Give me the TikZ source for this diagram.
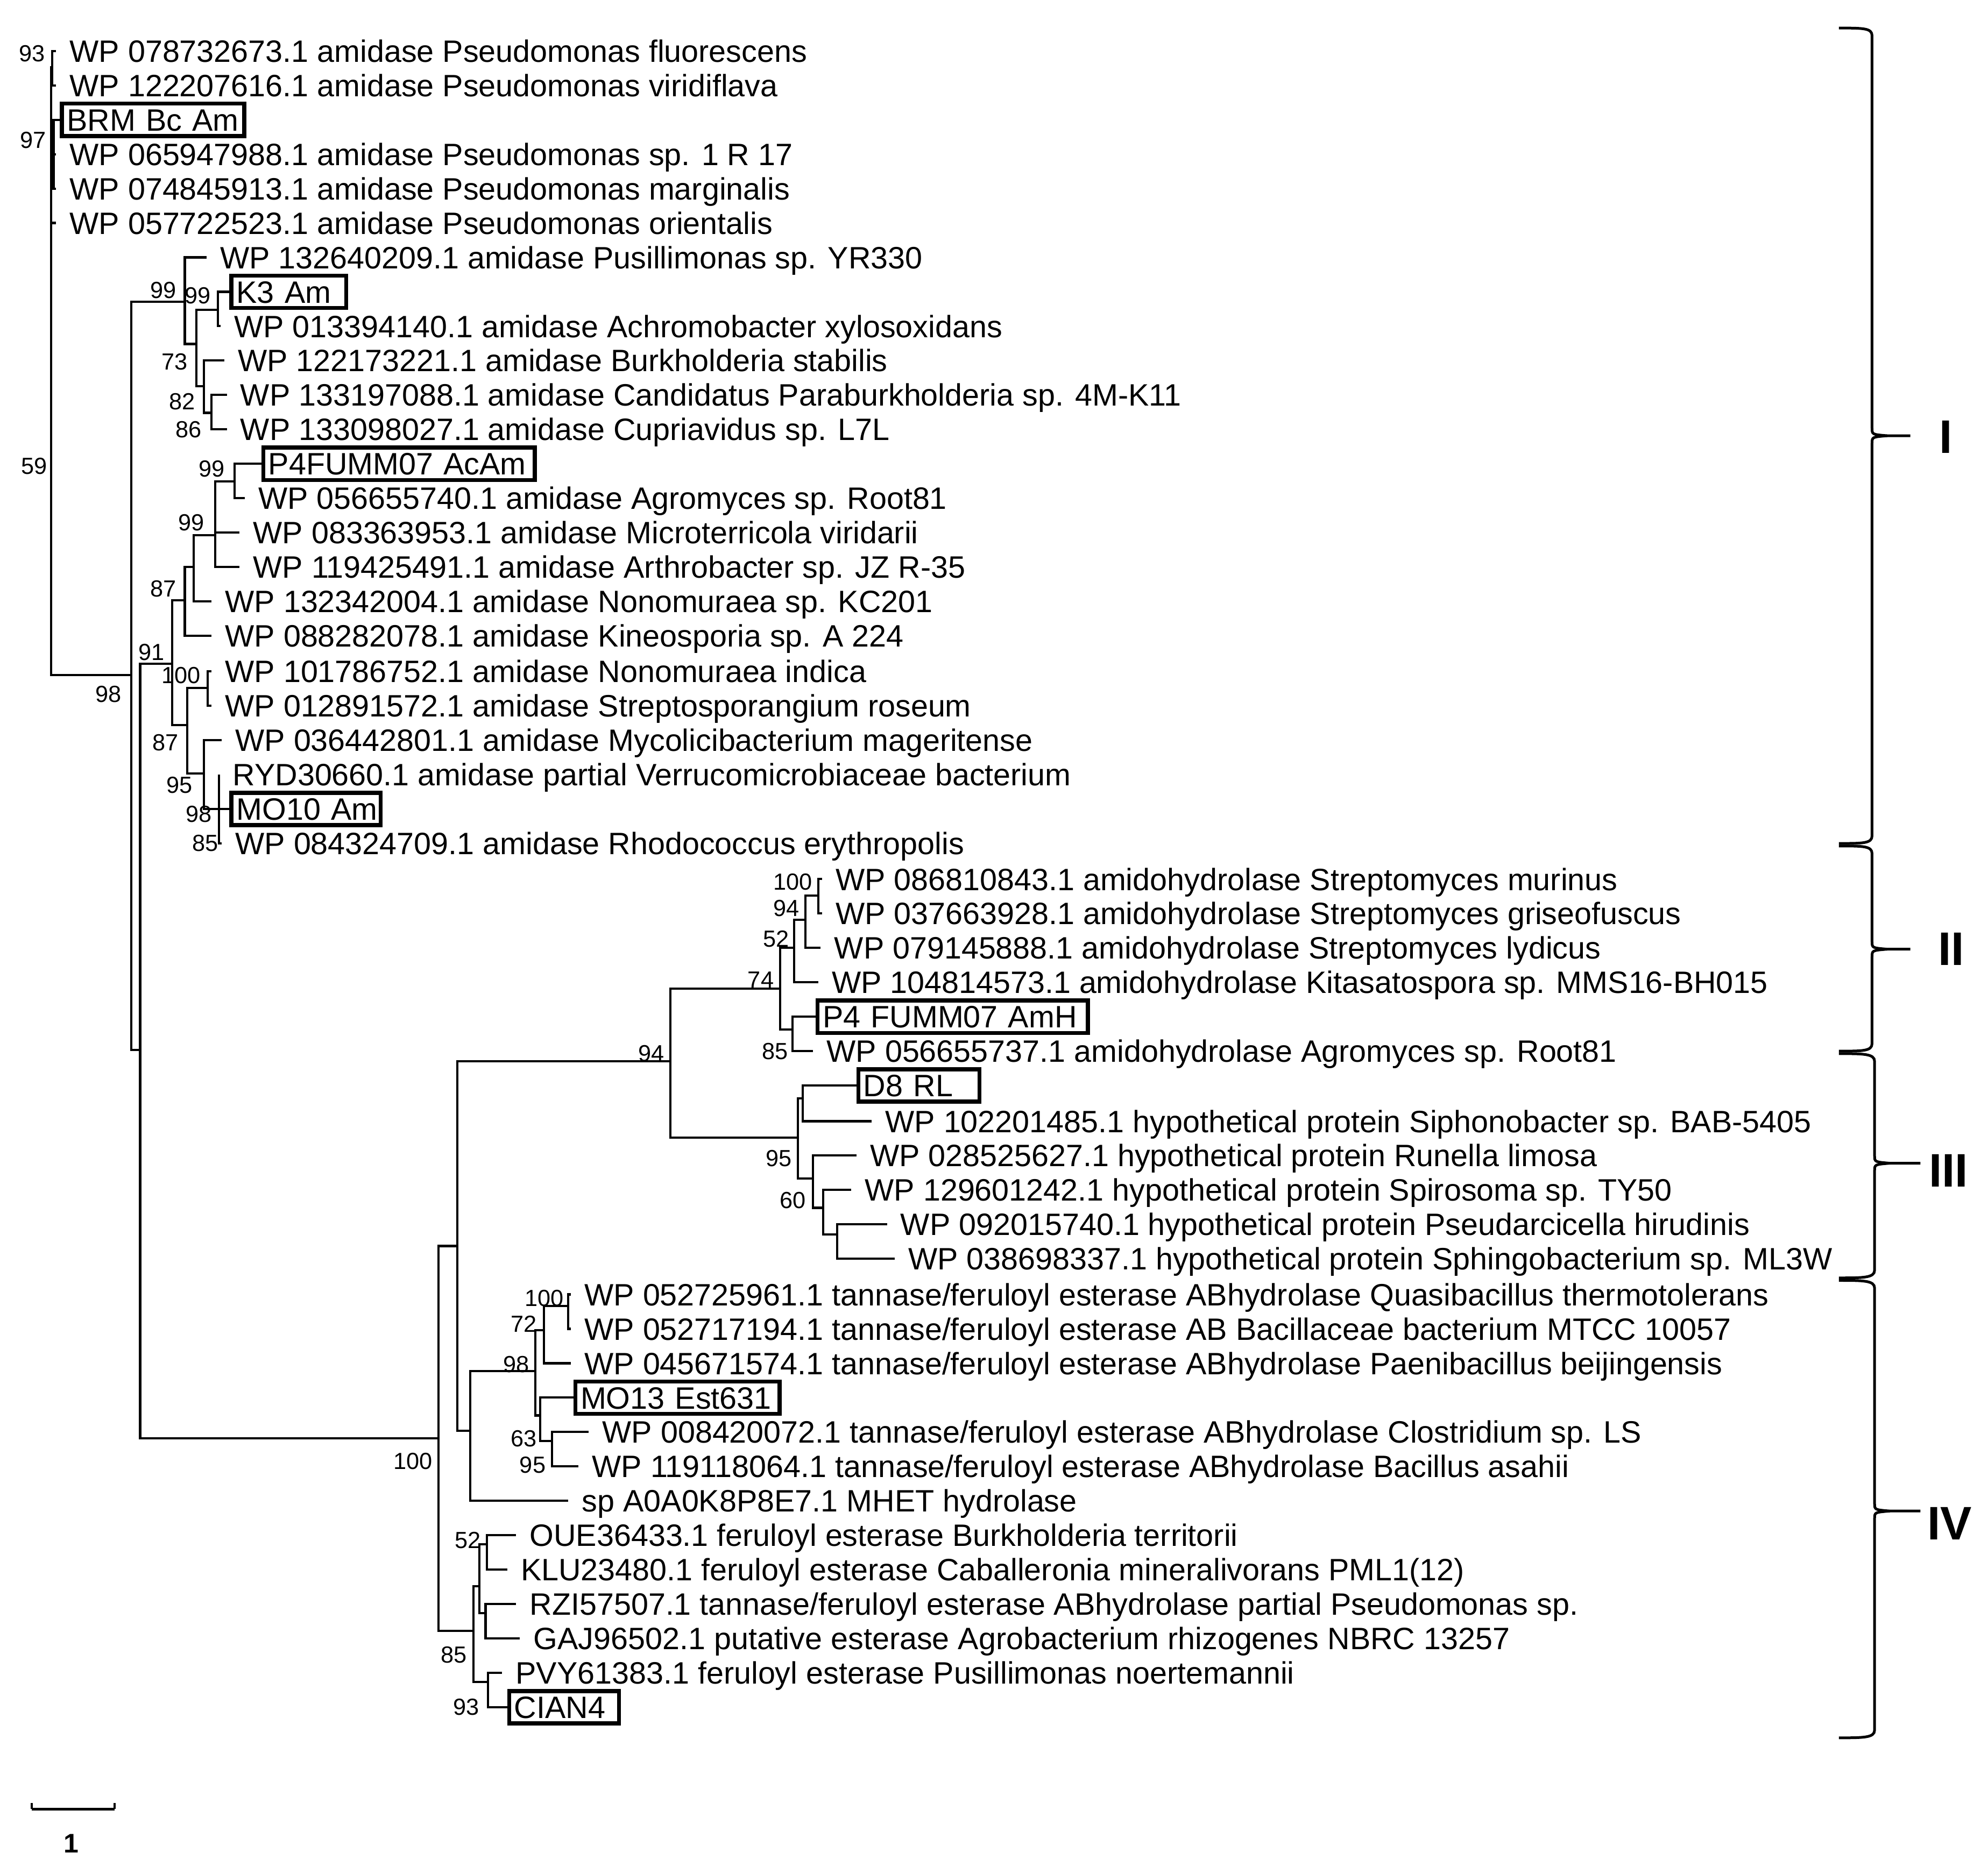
\documentclass[tikz,border=0pt]{standalone}
\usepackage{fontspec}
\setmainfont{Liberation Sans}
\begin{document}
\begin{tikzpicture}[x=0.01cm,y=-0.01cm,
  br/.style={line width=0.5pt},
  leaf/.style={anchor=west,inner xsep=0.1cm,inner ysep=0pt,text height=0.174cm,text depth=0pt,font=\fontsize{6.9}{8}\selectfont},
  box/.style={draw,line width=0.9pt,anchor=west,inner xsep=0.04cm,inner ysep=0.04cm,text height=0.174cm,text depth=0pt,text width=#1,font=\fontsize{6.9}{8}\selectfont,align=left},
  bs/.style={font=\fontsize{5.2}{6}\selectfont,inner sep=0pt},
  roman/.style={font=\fontsize{10.5}{12}\selectfont\bfseries,inner sep=0pt},
  brc/.style={line width=0.6pt}]
\useasboundingbox (0,0) rectangle (1560,1465);
% internal nodes
\coordinate (R) at (40,300);
\coordinate (p93) at (41,53);
\coordinate (p97) at (42,121);
\coordinate (B) at (103,530);
\coordinate (C) at (145,237);
\coordinate (C2) at (154,270);
\coordinate (K) at (171,243);
\coordinate (C3) at (160,303);
\coordinate (C4) at (166,324);
\coordinate (E) at (110,824);
\coordinate (F) at (135,521);
\coordinate (H) at (145,471);
\coordinate (H2) at (152,445);
\coordinate (H3) at (169,420);
\coordinate (H4) at (184,378);
\coordinate (J) at (147,569);
\coordinate (N100) at (163,540);
\coordinate (K2) at (160,607);
\coordinate (L) at (172,635);
\coordinate (G) at (344,1129);
\coordinate (M) at (359,978);
\coordinate (Y) at (526,833);
\coordinate (Z) at (612,776);
\coordinate (Z1) at (623,744);
\coordinate (Z3) at (632,722);
\coordinate (Z4) at (642,703);
\coordinate (Z2) at (622,808);
\coordinate (AA) at (626,893);
\coordinate (AB) at (630,862);
\coordinate (AC) at (638,925);
\coordinate (AD) at (646,948);
\coordinate (AE) at (657,969);
\coordinate (O) at (369,1123);
\coordinate (P) at (420,1076);
\coordinate (Q) at (427,1044);
\coordinate (Qa) at (446,1025);
\coordinate (S) at (424,1111);
\coordinate (T) at (433,1131);
\coordinate (N) at (371.5,1280);
\coordinate (U) at (376,1245);
\coordinate (W) at (382,1212);
\coordinate (X) at (381,1266);
\coordinate (V) at (383,1320);
% leaves
\node[leaf] (l1) at (44,40) {WP 078732673.1 amidase Pseudomonas fluorescens};
\node[leaf] (l2) at (44,67) {WP 122207616.1 amidase Pseudomonas viridiflava};
\node[box=1.35cm] (l3) at (47,94) {\mbox{BRM Bc Am}};
\node[leaf] (l4) at (44,121) {WP 065947988.1 amidase Pseudomonas sp. 1 R 17};
\node[leaf] (l5) at (44,148) {WP 074845913.1 amidase Pseudomonas marginalis};
\node[leaf] (l6) at (44,175) {WP 057722523.1 amidase Pseudomonas orientalis};
\node[leaf] (l7) at (162,202) {WP 132640209.1 amidase Pusillimonas sp. YR330};
\node[box=0.82cm] (l8) at (180,229) {\mbox{K3 Am}};
\node[leaf] (l9) at (173,256) {WP 013394140.1 amidase Achromobacter xylosoxidans};
\node[leaf] (l10) at (176,283) {WP 122173221.1 amidase Burkholderia stabilis};
\node[leaf] (l11) at (178,310) {WP 133197088.1 amidase Candidatus Paraburkholderia sp. 4M-K11};
\node[leaf] (l12) at (178,337) {WP 133098027.1 amidase Cupriavidus sp. L7L};
\node[box=2.05cm] (l13) at (205,364) {\mbox{P4FUMM07 AcAm}};
\node[leaf] (l14) at (192,391) {WP 056655740.1 amidase Agromyces sp. Root81};
\node[leaf] (l15) at (188,418) {WP 083363953.1 amidase Microterricola viridarii};
\node[leaf] (l16) at (188,445) {WP 119425491.1 amidase Arthrobacter sp. JZ R-35};
\node[leaf] (l17) at (166,472) {WP 132342004.1 amidase Nonomuraea sp. KC201};
\node[leaf] (l18) at (166,499) {WP 088282078.1 amidase Kineosporia sp. A 224};
\node[leaf] (l19) at (166,527) {WP 101786752.1 amidase Nonomuraea indica};
\node[leaf] (l20) at (166,554) {WP 012891572.1 amidase Streptosporangium roseum};
\node[leaf] (l21) at (174,581) {WP 036442801.1 amidase Mycolicibacterium mageritense};
\node[leaf] (l22) at (172,608) {RYD30660.1 amidase partial Verrucomicrobiaceae bacterium};
\node[box=1.09cm] (l23) at (180,635) {\mbox{MO10 Am}};
\node[leaf] (l24) at (174,662) {WP 084324709.1 amidase Rhodococcus erythropolis};
\node[leaf] (l25) at (645,690) {WP 086810843.1 amidohydrolase Streptomyces murinus};
\node[leaf] (l26) at (645,717) {WP 037663928.1 amidohydrolase Streptomyces griseofuscus};
\node[leaf] (l27) at (644,744) {WP 079145888.1 amidohydrolase Streptomyces lydicus};
\node[leaf] (l28) at (642,771) {WP 104814573.1 amidohydrolase Kitasatospora sp. MMS16-BH015};
\node[box=2.04cm] (l29) at (640,798) {\mbox{P4 FUMM07 AmH}};
\node[leaf] (l30) at (638,825) {WP 056655737.1 amidohydrolase Agromyces sp. Root81};
\node[box=0.87cm] (l31) at (672,852) {\mbox{D8 RL}};
\node[leaf] (l32) at (684,880) {WP 102201485.1 hypothetical protein Siphonobacter sp. BAB-5405};
\node[leaf] (l33) at (672,907) {WP 028525627.1 hypothetical protein Runella limosa};
\node[leaf] (l34) at (668,934) {WP 129601242.1 hypothetical protein Spirosoma sp. TY50};
\node[leaf] (l35) at (696,961) {WP 092015740.1 hypothetical protein Pseudarcicella hirudinis};
\node[leaf] (l36) at (702,988) {WP 038698337.1 hypothetical protein Sphingobacterium sp. ML3W};
\node[leaf] (l37) at (448,1016) {WP 052725961.1 tannase/feruloyl esterase ABhydrolase Quasibacillus thermotolerans};
\node[leaf] (l38) at (448,1043) {WP 052717194.1 tannase/feruloyl esterase AB Bacillaceae bacterium MTCC 10057};
\node[leaf] (l39) at (448,1070) {WP 045671574.1 tannase/feruloyl esterase ABhydrolase Paenibacillus beijingensis};
\node[box=1.52cm] (l40) at (450,1097) {\mbox{MO13 Est631}};
\node[leaf] (l41) at (462,1124) {WP 008420072.1 tannase/feruloyl esterase ABhydrolase Clostridium sp. LS};
\node[leaf] (l42) at (454,1151) {WP 119118064.1 tannase/feruloyl esterase ABhydrolase Bacillus asahii};
\node[leaf] (l43) at (446,1178) {sp A0A0K8P8E7.1 MHET hydrolase};
\node[leaf] (l44) at (405,1205) {OUE36433.1 feruloyl esterase Burkholderia territorii};
\node[leaf] (l45) at (398,1232) {KLU23480.1 feruloyl esterase Caballeronia mineralivorans PML1(12)};
\node[leaf] (l46) at (405,1259) {RZI57507.1 tannase/feruloyl esterase ABhydrolase partial Pseudomonas sp.};
\node[leaf] (l47) at (408,1286) {GAJ96502.1 putative esterase Agrobacterium rhizogenes NBRC 13257};
\node[leaf] (l48) at (394,1313) {PVY61383.1 feruloyl esterase Pusillimonas noertemannii};
\node[box=0.78cm] (l49) at (398,1340) {\mbox{CIAN4}};
% branches
\draw[br] (R) |- (p93); \draw[br] (R) |- (p97); \draw[br] (R) |- (l6.west); \draw[br] (R) |- (B);
\draw[br] (p93) |- (l1.west); \draw[br] (p93) |- (l2.west);
\draw[br] (p97) |- (l3.west); \draw[br] (p97) |- (l4.west); \draw[br] (p97) |- (l5.west);
\draw[br] (B) |- (C); \draw[br] (B) |- (E);
\draw[br] (C) |- (l7.west); \draw[br] (C) |- (C2);
\draw[br] (C2) |- (K); \draw[br] (C2) |- (C3);
\draw[br] (K) |- (l8.west); \draw[br] (K) |- (l9.west);
\draw[br] (C3) |- (l10.west); \draw[br] (C3) |- (C4);
\draw[br] (C4) |- (l11.west); \draw[br] (C4) |- (l12.west);
\draw[br] (E) |- (F); \draw[br] (E) |- (G);
\draw[br] (F) |- (H); \draw[br] (F) |- (J);
\draw[br] (H) |- (H2); \draw[br] (H) |- (l18.west);
\draw[br] (H2) |- (H3); \draw[br] (H2) |- (l17.west);
\draw[br] (H3) |- (H4); \draw[br] (H3) |- (l15.west); \draw[br] (H3) |- (l16.west);
\draw[br] (H4) |- (l13.west); \draw[br] (H4) |- (l14.west);
\draw[br] (J) |- (N100); \draw[br] (J) |- (K2);
\draw[br] (N100) |- (l19.west); \draw[br] (N100) |- (l20.west);
\draw[br] (K2) |- (l21.west); \draw[br] (K2) |- (L);
\draw[br] (L) |- (l22.west); \draw[br] (L) |- (l23.west); \draw[br] (L) |- (l24.west);
\draw[br] (G) |- (M); \draw[br] (G) |- (N);
\draw[br] (M) |- (Y); \draw[br] (M) |- (O);
\draw[br] (Y) |- (Z); \draw[br] (Y) |- (AA);
\draw[br] (Z) |- (Z1); \draw[br] (Z) |- (Z2);
\draw[br] (Z1) |- (Z3); \draw[br] (Z1) |- (l28.west);
\draw[br] (Z3) |- (Z4); \draw[br] (Z3) |- (l27.west);
\draw[br] (Z4) |- (l25.west); \draw[br] (Z4) |- (l26.west);
\draw[br] (Z2) |- (l29.west); \draw[br] (Z2) |- (l30.west);
\draw[br] (AA) |- (AB); \draw[br] (AA) |- (AC);
\draw[br] (AB) |- (l31.west); \draw[br] (AB) |- (l32.west);
\draw[br] (AC) |- (l33.west); \draw[br] (AC) |- (AD);
\draw[br] (AD) |- (l34.west); \draw[br] (AD) |- (AE);
\draw[br] (AE) |- (l35.west); \draw[br] (AE) |- (l36.west);
\draw[br] (O) |- (P); \draw[br] (O) |- (l43.west);
\draw[br] (P) |- (Q); \draw[br] (P) |- (S);
\draw[br] (Q) |- (Qa); \draw[br] (Q) |- (l39.west);
\draw[br] (Qa) |- (l37.west); \draw[br] (Qa) |- (l38.west);
\draw[br] (S) |- (l40.west); \draw[br] (S) |- (T);
\draw[br] (T) |- (l41.west); \draw[br] (T) |- (l42.west);
\draw[br] (N) |- (U); \draw[br] (N) |- (V);
\draw[br] (U) |- (W); \draw[br] (U) |- (X);
\draw[br] (W) |- (l44.west); \draw[br] (W) |- (l45.west);
\draw[br] (X) |- (l46.west); \draw[br] (X) |- (l47.west);
\draw[br] (V) |- (l48.west); \draw[br] (V) |- (l49.west);
% bootstrap labels
\foreach \t/\x/\y [count=\i] in {93/25/42,97/26/110,59/27/366,98/85/545,99/128/228,99/155/232,73/137/284,82/143/315,86/148/337,99/166/368,99/150/410,87/128/462,91/119/512,100/142/530,87/130/583,95/141/616,98/156/639,85/161/662,100/622/692,94/617/713,52/609/737,74/597/769,85/608/825,94/511/827,95/611/909,60/622/942,100/427/1019,72/411/1039,98/405/1071,63/411/1129,95/418/1150,100/324/1147,52/367/1209,85/356/1299,93/366/1340}
  \node[bs] (bs\i) at (\x,\y) {\t};
% clade brackets
\newcommand{\cladebrace}[5]{%
  \draw[brc] (1443,#1) .. controls (1462,#1) and (#4,#1) .. (#4,#1+6) -- (#4,#2-6)
    .. controls (#4,#2-1) .. (#4+12,#2) -- (#5,#2);
  \draw[brc] (1443,#3) .. controls (1462,#3) and (#4,#3) .. (#4,#3-6) -- (#4,#2+6)
    .. controls (#4,#2+1) .. (#4+12,#2);}
\cladebrace{22}{342}{662}{1469}{1499}
\cladebrace{664}{745}{825}{1469}{1499}
\cladebrace{827}{913}{1003}{1471}{1507}
\cladebrace{1005}{1186}{1364}{1471}{1507}
\node[roman] (c1) at (1527,343) {I};
\node[roman] (c2) at (1531,745) {II};
\node[roman] (c3) at (1529,919) {III};
\node[roman] (c4) at (1530,1196) {IV};
% scale bar
\coordinate (sb1) at (25,1420);
\coordinate (sb2) at (90,1420);
\draw[br] (sb1) -- (sb2);
\draw[br] (sb1) -- ++(0,-5);
\draw[br] (sb2) -- ++(0,-5);
\node[font=\fontsize{6}{7}\selectfont\bfseries,inner sep=0pt] (sbl) at (56,1447) {1};
\end{tikzpicture}
\end{document}
